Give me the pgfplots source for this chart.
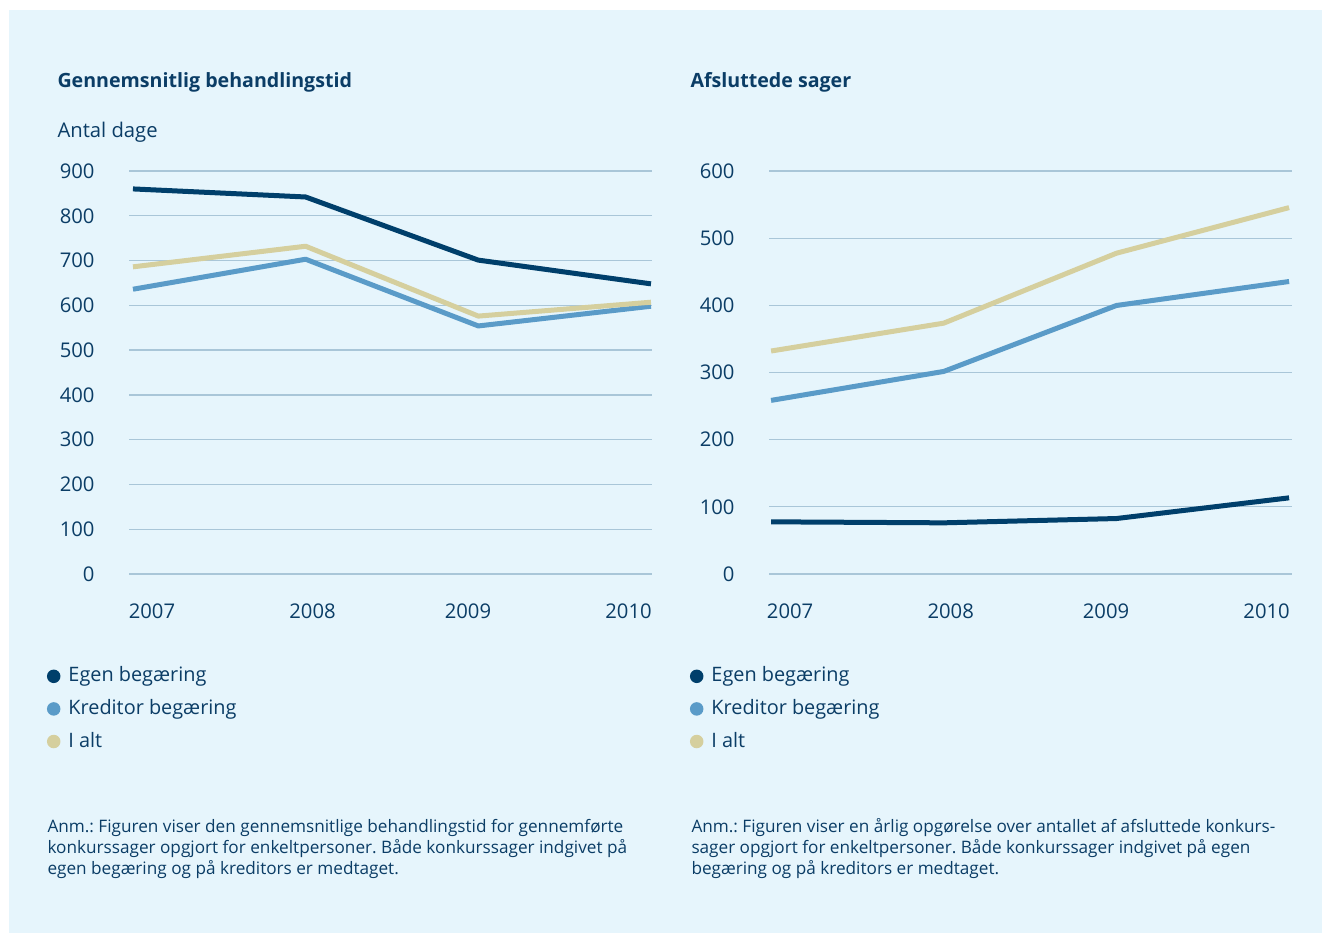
\documentclass[border=0pt]{standalone}
\usepackage{fontspec}
\setmainfont{Open Sans}
\usepackage{pgfplots}
\pgfplotsset{compat=1.18}
\frenchspacing
\definecolor{bg}{HTML}{E6F5FC}
\definecolor{egen}{HTML}{003F6B}
\definecolor{kred}{HTML}{5A9BC8}
\definecolor{ialt}{HTML}{D5CF9E}
\definecolor{gridc}{HTML}{A9C6D8}
\definecolor{txt}{HTML}{0B3D66}
\newcommand{\tickfont}{\fontsize{8.1}{10}\selectfont}
\newcommand{\legfont}{\fontsize{7.95}{10}\selectfont}
\newcommand{\notefont}{\fontsize{6.87}{8.3}\selectfont}
\pgfplotsset{mystyle/.style={
  scale only axis, width=209.2pt, height=161.2pt,
  axis line style={draw=none}, major tick length=0pt,
  ymajorgrids, major grid style={gridc, line width=0.5pt},
  xticklabels={2007,2008,2009,2010},
  tick label style={font=\tickfont, text=txt},
  yticklabel style={anchor=east, inner sep=0pt, xshift=-13.6pt},
  xticklabel style={anchor=north, inner sep=0pt, yshift=-11.8pt},
  /pgf/number format/assume math mode=true,
  clip=false,
  legend image code/.code={\fill[##1,draw=none] (0.2em,0) circle (2.7pt);},
  legend style={draw=none, fill=none, font=\legfont, text=txt, row sep=1.5pt, inner sep=0pt,
    /tikz/column sep=1.2pt,
    /tikz/every odd column/.append style={column sep=1.2pt}},
  legend cell align=left,
  every axis plot/.append style={line width=2pt, line join=round, no markers},
}}
\begin{document}
\begin{tikzpicture}[x=0.4pt,y=-0.4pt]
\fill[white] (0,0) rectangle (1322,933);
\fill[bg] (9,10) rectangle (1322,933);
\node[anchor=base west, inner sep=0pt, text=txt, font=\fontsize{7.85}{10}\selectfont\bfseries] at (57,88) {Gennemsnitlig behandlingstid};
\node[anchor=base west, inner sep=0pt, text=txt, font=\tickfont] at (57,137) {Antal dage};
\node[anchor=base west, inner sep=0pt, text=txt, font=\fontsize{7.85}{10}\selectfont\bfseries] at (690,88) {Afsluttede sager};
\node[anchor=base west, inner sep=0pt, text=txt, font=\notefont, align=left] at (47,874) {Anm.: Figuren viser den gennemsnitlige behandlingstid for gennemførte\\konkurssager opgjort for enkeltpersoner. Både konkurssager indgivet på\\egen begæring og på kreditors er medtaget.};
\node[anchor=base west, inner sep=0pt, text=txt, font=\notefont, align=left] at (691,874) {Anm.: Figuren viser en årlig opgørelse over antallet af afsluttede konkurs-\\sager opgjort for enkeltpersoner. Både konkurssager indgivet på egen\\begæring og på kreditors er medtaget.};

\begin{axis}[mystyle, at={(51.6pt,-229.6pt)}, anchor=south west,
  xmin=2006.977, xmax=2010.006, ymin=0, ymax=900, ytick={0,100,...,900},
  xtick={2007.11,2008.04,2008.94,2009.87},
  legend style={at={(-0.1578,-0.2168)}, anchor=north west}]
\addplot[egen] coordinates {(2007,860) (2008,842) (2009,701) (2010,648)};
\addplot[kred] coordinates {(2007,636) (2008,703) (2009,554) (2010,598)};
\addplot[ialt] coordinates {(2007,686) (2008,732) (2009,576) (2010,607)};
\legend{Egen begæring, Kreditor begæring, I alt}
\end{axis}

\begin{axis}[mystyle, at={(307.6pt,-229.6pt)}, anchor=south west,
  xmin=2006.988, xmax=2010.017, ymin=0, ymax=600, ytick={0,100,...,600},
  xtick={2007.11,2008.04,2008.94,2009.87},
  legend style={at={(-0.1521,-0.2168)}, anchor=north west}]
\addplot[egen] coordinates {(2007,77.7) (2008,76.2) (2009,82.6) (2010,113.4)};
\addplot[kred] coordinates {(2007,258.5) (2008,301.6) (2009,399.8) (2010,435.5)};
\addplot[ialt] coordinates {(2007,332) (2008,373.5) (2009,477.6) (2010,545.5)};
\legend{Egen begæring, Kreditor begæring, I alt}
\end{axis}
\end{tikzpicture}
\end{document}
